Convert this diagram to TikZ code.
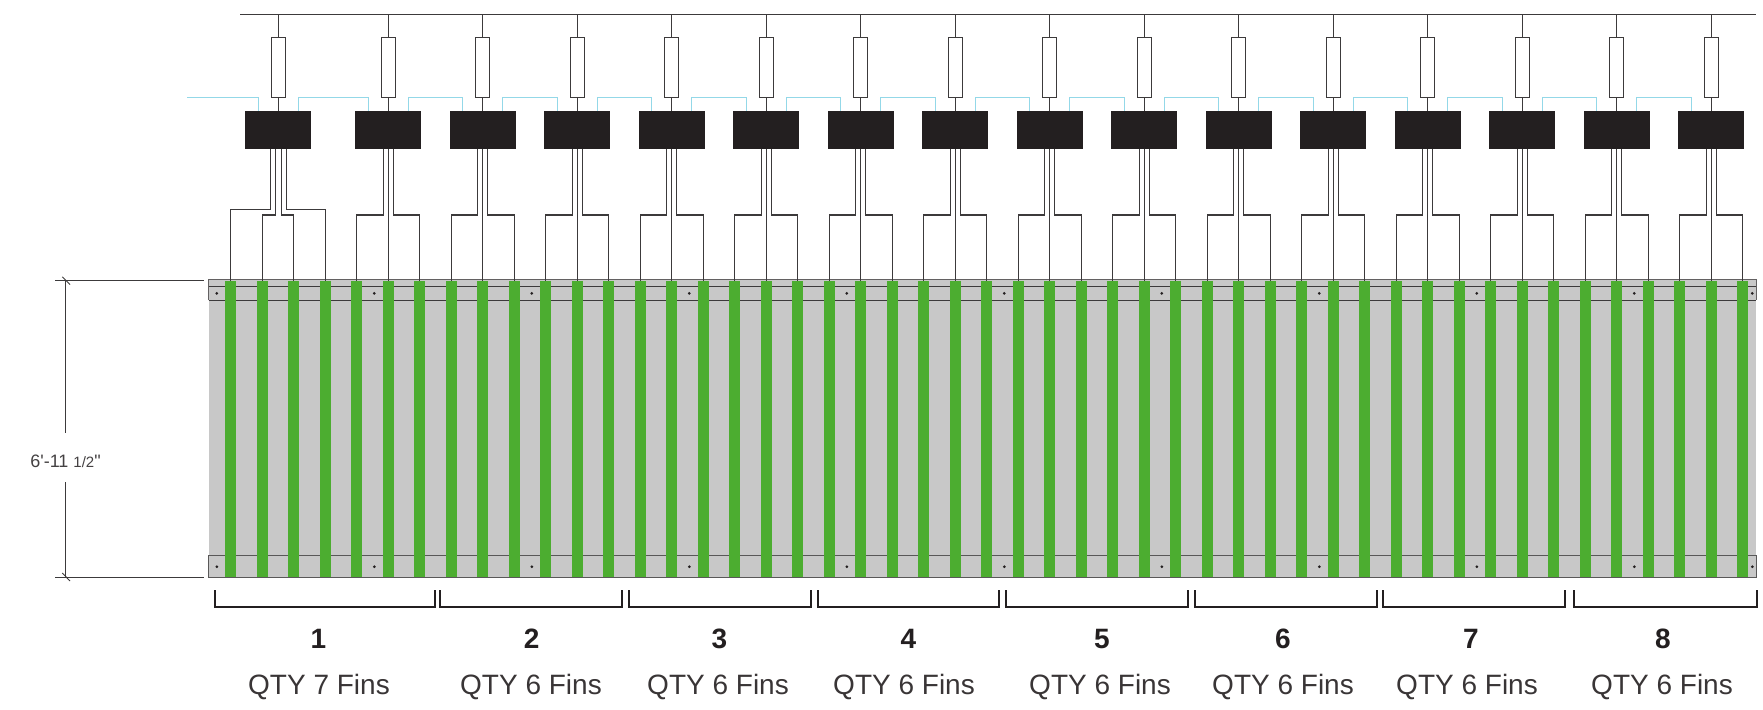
\documentclass[tikz,border=0pt]{standalone}
\usepackage{fontspec}
\setmainfont{Liberation Sans}
\newfontfamily\dimfont{Liberation Sans}
\definecolor{ink}{HTML}{231F20}
\definecolor{wire}{HTML}{3C3A3B}
\definecolor{cyanline}{HTML}{93D8E8}
\definecolor{panelgray}{HTML}{C8C8C8}
\definecolor{fingreen}{HTML}{4CAD30}
\tikzset{
  wireline/.style={draw=wire,line width=1.1pt},
  cyanwire/.style={draw=cyanline,line width=1.1pt},
  blackbox/.style={fill=ink,draw=none,inner sep=0pt,minimum width=66pt,minimum height=38pt},
  resistor/.style={draw=wire,fill=white,line width=1.1pt,inner sep=0pt,minimum width=14pt,minimum height=60pt},
  finbar/.style={fill=fingreen,draw=none,inner sep=0pt,minimum width=11pt,minimum height=296.3pt},
  dotmark/.style={circle,fill=ink,draw=none,inner sep=0pt,minimum size=3pt},
  bracketline/.style={draw=ink,line width=1.9pt},
  numtext/.style={font=\fontsize{28}{30}\selectfont\bfseries,text=ink,inner sep=0pt},
  qtytext/.style={font=\fontsize{28}{30}\selectfont,text=ink!90,inner sep=0pt},
  dimtext/.style={font=\dimfont\fontsize{18}{20}\selectfont,text=ink!85,inner sep=0pt}
}
\begin{document}
\begin{tikzpicture}[x=1pt,y=-1pt]
\useasboundingbox (0,0) rectangle (1763,709);
% panel
\fill[panelgray] (208.5,279) rectangle (1756,577.3);
\draw[wireline,draw=wire!80] (208.75,300.25) -- (208.75,279.25) -- (1756.25,279.25) -- (1756.25,300.25);
\draw[wireline] (208.75,286.25) -- (1756.25,286.25);
\draw[wireline] (208.75,300.25) -- (1756.25,300.25);
\draw[wireline,draw=wire!85] (208.75,555.75) rectangle (1756.25,577.25);
\foreach \dx [count=\di] in {216.8,374.3,531.8,689.3,846.8,1004.3,1161.8,1319.3,1476.8,1634.3,1752.3}{
  \node[dotmark] (dotT\di) at (\dx,293.4) {};
  \node[dotmark] (dotB\di) at (\dx,566.7) {};
}
% bus
\coordinate (busL) at (240,14.25);
\coordinate (busR) at (1756,14.25);
\draw[wireline] (busL) -- (busR);
% boxes and resistors
\node[blackbox] (box1) at (278.25,130.25) {};
\node[resistor] (res1) at (278.25,67.25) {};
\foreach \k in {2,...,16}{
  \pgfmathsetmacro{\c}{388.25+94.5*(\k-2)}
  \node[blackbox] (box\k) at (\c,130.25) {};
  \node[resistor] (res\k) at (\c,67.25) {};
}
\foreach \k in {1,...,16}{
  \draw[wireline] (res\k.north) -- (res\k.north |- busL);
  \draw[wireline] (res\k.south) -- (box\k.north);
}
% cyan links
\coordinate (cyanStart) at (187,97.25);
\draw[cyanwire] (cyanStart) -| ([xshift=-20pt]box1.north);
\foreach \k in {1,...,15}{
  \pgfmathtruncatemacro{\n}{\k+1}
  \draw[cyanwire] ([xshift=20pt]box\k.north) -- ++(0,-14) -| ([xshift=-20pt]box\n.north);
}
% fins
\foreach \f in {1,...,49}{
  \pgfmathsetmacro{\fx}{230.75+31.5*(\f-1)}
  \node[finbar] (fin\f) at (\fx,429.15) {};
}
% wires box 1
\draw[wireline] ([xshift=-8pt]box1.south) -- ++(0,60) -| (fin1.north);
\draw[wireline] ([xshift=-2.5pt]box1.south) -- ++(0,65.5) -| (fin2.north);
\draw[wireline] ([xshift=3pt]box1.south) -- ++(0,65.5) -| (fin3.north);
\draw[wireline] ([xshift=8.5pt]box1.south) -- ++(0,60) -| (fin4.north);
% wires other boxes
\foreach \k in {2,...,16}{
  \pgfmathtruncatemacro{\fa}{5+3*(\k-2)}
  \pgfmathtruncatemacro{\fb}{6+3*(\k-2)}
  \pgfmathtruncatemacro{\fc}{7+3*(\k-2)}
  \draw[wireline] ([xshift=-5pt]box\k.south) -- ++(0,65.5) -| (fin\fa.north);
  \draw[wireline] (box\k.south) -- (fin\fb.north);
  \draw[wireline] ([xshift=5pt]box\k.south) -- ++(0,65.5) -| (fin\fc.north);
}
% dimension
\coordinate (extTL) at (55,280.75);
\coordinate (extTR) at (203.5,280.75);
\coordinate (extBL) at (55,577.25);
\coordinate (extBR) at (203.5,577.25);
\coordinate (dimT) at (65.75,280.75);
\coordinate (dimB) at (65.75,577.25);
\draw[wireline] (extTL) -- (extTR);
\draw[wireline] (extBL) -- (extBR);
\node[dimtext,minimum height=49pt] (dimLabel) at (65.5,461) {6'-11 {\fontsize{15}{17}\selectfont 1/2}"};
\draw[wireline] (dimT) -- ([yshift=3.8pt]dimLabel.north -| dimT);
\draw[wireline] (dimB) -- ([yshift=3.8pt]dimLabel.south -| dimB);
\draw[wireline,line width=0.9pt] (62.3,276.9) -- (70,284.5);
\draw[wireline,line width=0.9pt] (62.3,573) -- (70,581);
% brackets and labels
\foreach \i/\a/\b/\nx/\qx/\q in {1/215/435/318.5/319/7,2/440/622/531.7/531/6,3/629/811/719.5/718/6,4/818/999/908.5/904/6,5/1006/1188/1102/1100/6,6/1195/1377/1283/1283/6,7/1383/1565/1471/1467/6,8/1574/1756.7/1663/1662/6}{
  \coordinate (brA\i) at (\a,590);
  \coordinate (brB\i) at (\b,590);
  \draw[bracketline] (brA\i) -- ++(0,17) -| (brB\i);
  \node[numtext] (num\i) at (\nx,639) {\i};
  \node[qtytext,anchor=base] (qty\i) at (\qx,694) {QTY \q{} Fins};
}
\end{tikzpicture}
\end{document}
